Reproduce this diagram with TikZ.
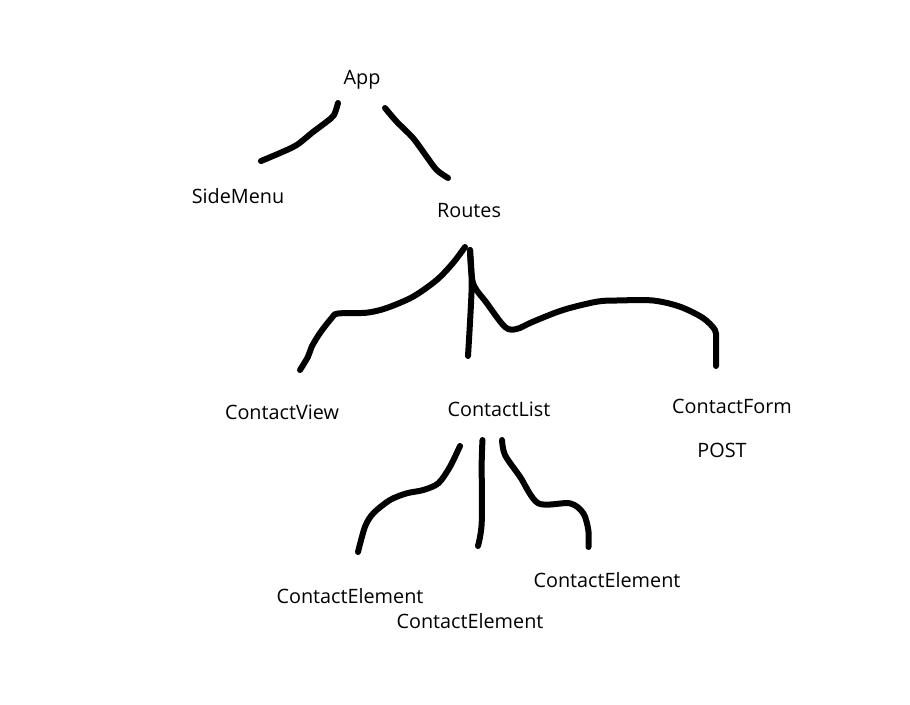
\documentclass[tikz,border=0pt]{standalone}
\usepackage{fontspec}
\setmainfont{Open Sans}
\begin{document}
\begin{tikzpicture}[x=1pt,y=-1pt,
  lbl/.style={inner sep=0pt,font=\fontsize{19.8}{23}\selectfont},
  stroke/.style={line width=6pt,line cap=round,line join=round}]
\useasboundingbox (0,0) rectangle (910,704);
\fill[white] (0,0) rectangle (910,704);
% labels
\node[lbl] (app) at (362,80) {App};
\node[lbl] (side) at (238,196) {SideMenu};
\node[lbl] (routes) at (469,211) {Routes};
\node[lbl] (cview) at (282,412) {ContactView};
\node[lbl] (clist) at (499,409) {ContactList};
\node[lbl] (cform) at (732,406) {ContactForm};
\node[lbl] (post) at (722,450) {POST};
\node[lbl] (ce1) at (350,596) {ContactElement};
\node[lbl] (ce2) at (470,621) {ContactElement};
\node[lbl] (ce3) at (607,580) {ContactElement};
% connector endpoints
\coordinate (appL) at (338,103);
\coordinate (sideT) at (261,161);
\coordinate (appR) at (385,108);
\coordinate (routesT) at (448,178);
\coordinate (routesL) at (465,247);
\coordinate (routesB) at (470,250);
\coordinate (cviewT) at (300,370);
\coordinate (clistT) at (468,356);
\coordinate (cformT) at (716,366);
\coordinate (clistL) at (460,446);
\coordinate (clistM) at (482.5,440);
\coordinate (clistR) at (502,440);
\coordinate (ce1T) at (358,552);
\coordinate (ce2T) at (478,546);
\coordinate (ce3T) at (588.5,547);
% connectors
\draw[stroke] plot[smooth,tension=0.5] coordinates {(appL) (334,115) (326.7,121.7) (313,132) (296.7,145) (280,153) (sideT)};
\draw[stroke] plot[smooth,tension=0.5] coordinates {(appR) (396.7,121.7) (413,138) (426.7,156.7) (436.7,170) (routesT)};
\draw[stroke] plot[smooth,tension=0.5] coordinates {(routesL) (453,263) (436.7,280) (413,296.7) (386.7,308) (366.7,312.7) (338,313.5) (331.7,318) (320,333) (311.7,346.7) (308,356.7) (cviewT)};
\draw[stroke] plot[smooth,tension=0.5] coordinates {(routesB) (471.7,286.7) (clistT)};
\draw[stroke] plot[smooth,tension=0.5] coordinates {(routesB) (473,283) (486.7,303) (505,327) (516.7,329) (533,321.7) (563,310) (596.7,301.7) (616.7,300.5) (653,300.5) (680,306.7) (703,318) (715,330) (716,340) (cformT)};
\draw[stroke] plot[smooth,tension=0.5] coordinates {(clistL) (450,466.7) (438.3,483.3) (423.3,490) (406.7,493.3) (390,500) (373.3,513.3) (365,526.7) (ce1T)};
\draw[stroke] plot[smooth,tension=0.5] coordinates {(clistM) (481.7,463) (481.7,523) (ce2T)};
\draw[stroke] plot[smooth,tension=0.5] coordinates {(clistR) (505,455) (520,476.7) (538.3,503.3) (570,503.3) (583.3,513.3) (588.3,530) (ce3T)};
\end{tikzpicture}
\end{document}
